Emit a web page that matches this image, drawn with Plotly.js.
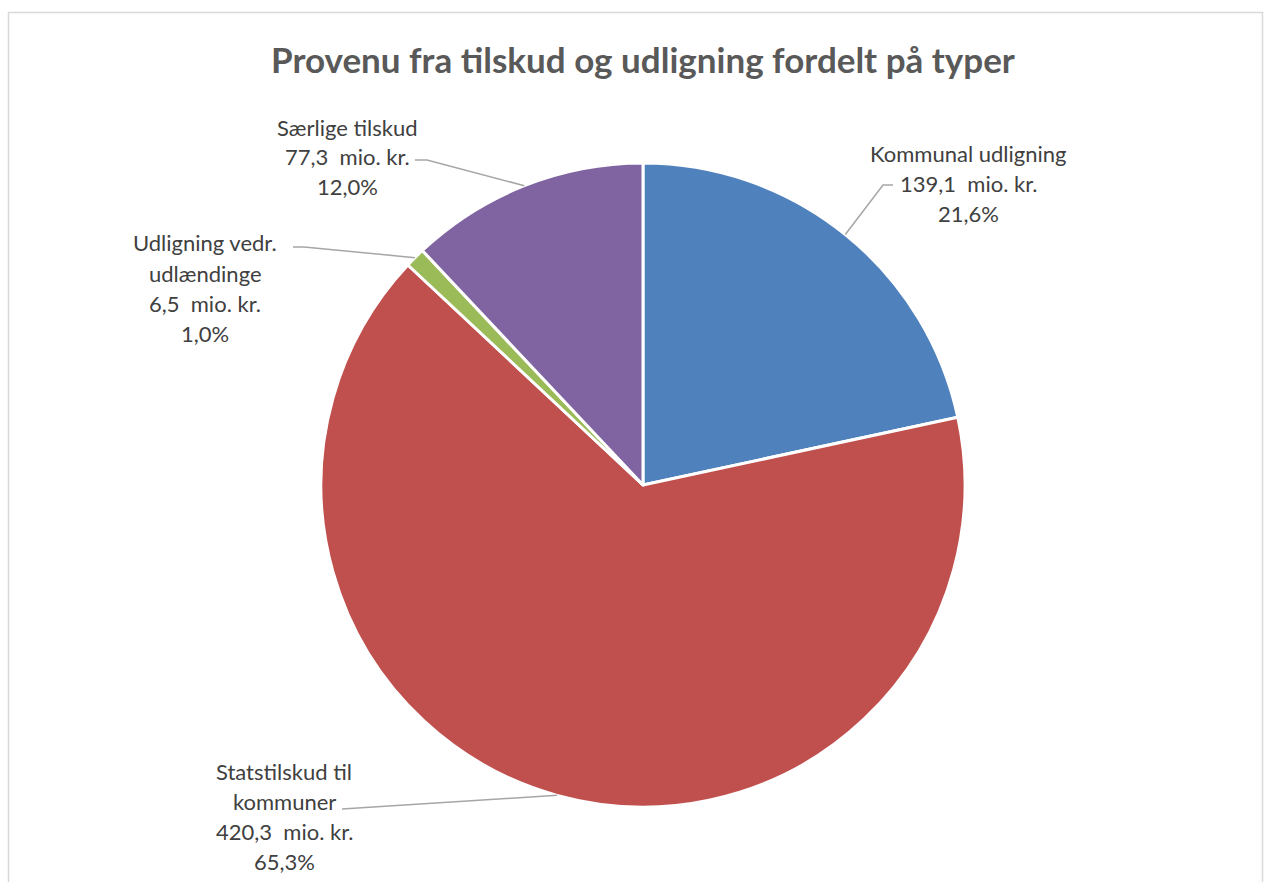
<!DOCTYPE html>
<html>
<head>
<meta charset="utf-8">
<script src="https://cdn.plot.ly/plotly-3.0.1.min.js"></script>
<style>
html,body{margin:0;padding:0;background:#fff;}
#chart{width:1265px;height:882px;}
</style>
</head>
<body>
<div id="chart"></div>
<script>
// ---- data ----
const categories = ['Kommunal udligning', 'Statstilskud til kommuner', 'Udligning vedr. udlændinge', 'Særlige tilskud'];
const values = [139.1, 420.3, 6.5, 77.3];
const unit = 'mio. kr.';
const colors = ['#4F81BD', '#C0504D', '#9BBB59', '#8064A2'];
const titleText = 'Provenu fra tilskud og udligning fordelt på typer';
// how many words go on the first line of each label (null = no wrap)
const wrapWords = [null, 2, 2, null];

// ---- layout constants (pixels) ----
const W = 1265, H = 882;
const cx = 643, cy = 485, R = 322;
const labelX = [968, 284, 205, 347];
const labelCY = [183.5, 816, 288, 157];
const lineGap = 30;
// leader line: start point near text, elbow point (pixels)
const leadStart = [[893, 185], [342, 809], [293, 247], [415, 160]];
const leadElbow = [[883, 185], [342, 809], [304, 247], [427, 160]];

const px = x => x / W;
const py = y => 1 - y / H;
const fmt = v => v.toFixed(1).replace('.', ',');

const total = values.reduce((a, b) => a + b, 0);

const annotations = [];
const shapes = [];
let cum = 0;
values.forEach((v, i) => {
  const frac = v / total;
  const mid = cum + frac / 2;
  cum += frac;
  const ang = mid * 2 * Math.PI;
  const ex = cx + R * Math.sin(ang);
  const ey = cy - R * Math.cos(ang);

  const words = categories[i].split(' ');
  const nameLines = wrapWords[i] ? [words.slice(0, wrapWords[i]).join(' '), words.slice(wrapWords[i]).join(' ')] : [categories[i]];
  const lines = nameLines.concat([fmt(v) + '\u00a0 ' + unit, fmt(frac * 100) + '%']);
  const y0 = labelCY[i] - (lines.length - 1) * lineGap / 2;
  lines.forEach((t, k) => {
    annotations.push({
      xref: 'paper', yref: 'paper', x: px(labelX[i]), y: py(y0 + k * lineGap),
      xanchor: 'center', yanchor: 'middle', showarrow: false, text: t,
      font: {family: 'Lato, "Open Sans", sans-serif', size: 22, color: '#404040'}
    });
  });
  shapes.push({
    type: 'path', xref: 'paper', yref: 'paper',
    path: `M ${px(leadStart[i][0])} ${py(leadStart[i][1])} L ${px(leadElbow[i][0])} ${py(leadElbow[i][1])} L ${px(ex)} ${py(ey)}`,
    line: {color: '#A6A6A6', width: 1.5}
  });
});

// chart area border
shapes.push({
  type: 'rect', xref: 'paper', yref: 'paper',
  x0: px(8.5), x1: px(1262.5), y0: -0.2, y1: py(12.5),
  line: {color: '#D9D9D9', width: 1.5}, fillcolor: 'rgba(0,0,0,0)'
});

annotations.push({
  xref: 'paper', yref: 'paper', x: px(643), y: py(59), xanchor: 'center', yanchor: 'middle',
  showarrow: false, text: '<b>' + titleText + '</b>',
  font: {family: 'Lato, "Open Sans", sans-serif', size: 35, color: '#595959'}
});

const trace = {
  type: 'pie',
  labels: categories,
  values: values,
  sort: false,
  direction: 'clockwise',
  rotation: 0,
  textinfo: 'none',
  hoverinfo: 'skip',
  marker: {colors: colors, line: {color: '#FFFFFF', width: 3}},
  domain: {x: [px(cx - R), px(cx + R)], y: [py(cy + R), py(cy - R)]}
};

Plotly.newPlot('chart', [trace], {
  width: W, height: H,
  margin: {l: 0, r: 0, t: 0, b: 0},
  showlegend: false,
  paper_bgcolor: '#FFFFFF',
  annotations: annotations,
  shapes: shapes
}, {displayModeBar: false, staticPlot: true});
</script>
</body>
</html>
